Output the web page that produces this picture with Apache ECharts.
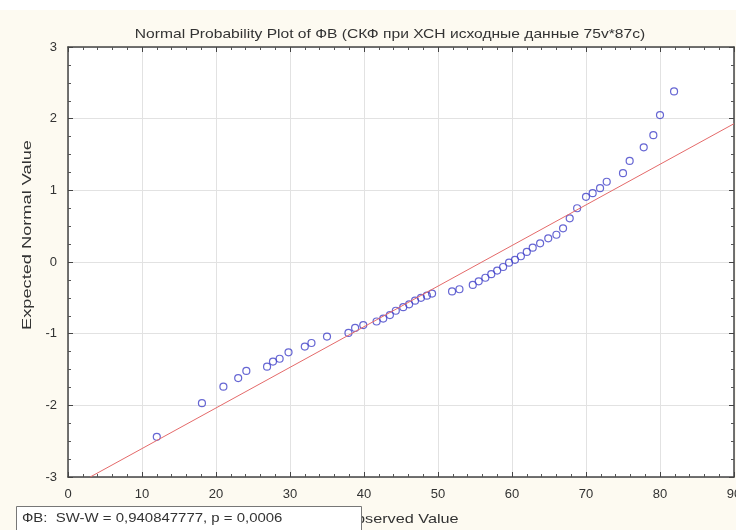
<!DOCTYPE html>
<html>
<head>
<meta charset="utf-8">
<script src="https://cdn.jsdelivr.net/npm/echarts@6/dist/echarts.min.js"></script>
<style>
  html, body { margin: 0; padding: 0; background: #fff; }
  #chart { width: 736px; height: 530px; }
</style>
</head>
<body>
<div id="chart"></div>
<script>
const observedValues = [12.0, 18.1, 21.0, 23.0, 24.1, 26.9, 27.7, 28.6, 29.8, 32.0,
  32.9, 35.0, 37.9, 38.8, 39.9, 41.7, 42.6, 43.5, 44.3, 45.3,
  46.1, 46.9, 47.7, 48.5, 49.2, 51.9, 52.9, 54.7, 55.5, 56.4,
  57.2, 58.0, 58.8, 59.6, 60.4, 61.2, 62.0, 62.8, 63.8, 64.9,
  66.0, 66.9, 67.8, 68.8, 70.0, 70.9, 71.9, 72.8, 75.0, 75.9,
  77.8, 79.1, 80.0, 81.9];
const expectedValues = [-2.44, -1.97, -1.74, -1.62, -1.52, -1.46, -1.39, -1.35, -1.26, -1.18,
  -1.13, -1.04, -0.99, -0.92, -0.88, -0.83, -0.79, -0.74, -0.68, -0.63,
  -0.59, -0.54, -0.50, -0.47, -0.44, -0.41, -0.38, -0.32, -0.27, -0.22,
  -0.17, -0.12, -0.07, -0.01, 0.03, 0.08, 0.14, 0.20, 0.26, 0.33,
  0.38, 0.47, 0.61, 0.75, 0.91, 0.96, 1.03, 1.12, 1.24, 1.41,
  1.60, 1.77, 2.05, 2.38];

// reference line end points
const fitLineX = [3.0, 90];
const fitLineY = [-3, 1.93];

const xRange = [0, 90, 10];
const yRange = [-3, 3, 1];

const titleText = 'Normal Probability Plot of ФВ (СКФ при ХСН исходные данные 75v*87c)';
const xName = 'Observed Value';
const yName = 'Expected Normal Value';
const statsText = 'ФВ:  SW-W = 0,940847777, p = 0,0006';

const FONT = 'Liberation Sans, Arial, sans-serif';
const TEXT = '#333';

const chart = echarts.init(document.getElementById('chart'));

// top / right axes only close the frame
const frameAxis = {
  axisLine: { show: true, onZero: false, lineStyle: { color: '#444', width: 1.5 } },
  axisTick: { show: true, inside: true, length: 5, lineStyle: { color: '#444' } },
  splitLine: { show: false },
  axisLabel: { show: false }
};

const option = {
  backgroundColor: '#fdfaf1',
  animation: false,
  grid: {
    left: 68, right: 2, top: 47, bottom: 53,
    outerBoundsMode: 'none',
    show: true, backgroundColor: '#fff', borderWidth: 0
  },
  xAxis: [
    {
      type: 'value', min: xRange[0], max: xRange[1], interval: xRange[2],
      position: 'bottom',
      axisLine: { show: true, onZero: false, lineStyle: { color: '#444', width: 1.5 } },
      axisTick: { show: true, inside: true, length: 5, lineStyle: { color: '#444' } },
      minorTick: { show: true, splitNumber: 5, length: 3, lineStyle: { color: '#555' } },
      axisLabel: { fontFamily: FONT, fontSize: 13, color: TEXT, margin: 11 },
      splitLine: { show: true, lineStyle: { color: '#e2e2e2' } }
    },
    Object.assign({}, frameAxis, {
      type: 'value', min: xRange[0], max: xRange[1], interval: xRange[2],
      position: 'top',
      minorTick: { show: true, splitNumber: 5, length: 3, lineStyle: { color: '#555' } }
    })
  ],
  yAxis: [
    {
      type: 'value', min: yRange[0], max: yRange[1], interval: yRange[2],
      position: 'left',
      axisLine: { show: true, onZero: false, lineStyle: { color: '#444', width: 1.5 } },
      axisTick: { show: true, inside: true, length: 5, lineStyle: { color: '#444' } },
      minorTick: { show: true, splitNumber: 4, length: 3, lineStyle: { color: '#555' } },
      axisLabel: { fontFamily: FONT, fontSize: 13, color: TEXT, margin: 11 },
      splitLine: { show: true, lineStyle: { color: '#e2e2e2' } }
    },
    Object.assign({}, frameAxis, {
      type: 'value', min: yRange[0], max: yRange[1], interval: yRange[2],
      position: 'right',
      minorTick: { show: true, splitNumber: 4, length: 3, lineStyle: { color: '#555' } }
    })
  ],
  series: [
    {
      type: 'line',
      data: fitLineX.map((x, i) => [x, fitLineY[i]]),
      symbol: 'none',
      lineStyle: { color: '#e46a6a', width: 1 },
      silent: true
    },
    {
      type: 'scatter',
      data: observedValues.map((x, i) => [x, expectedValues[i]]),
      symbol: 'circle',
      symbolSize: 7,
      itemStyle: { color: 'rgba(0,0,0,0)', borderColor: '#4040c8', borderWidth: 1.2 }
    }
  ],
  graphic: [
    // white strip at the very top, outside the chart window
    { type: 'rect', x: 0, y: 0, shape: { width: 736, height: 10 }, style: { fill: '#fff' } },
    {
      type: 'text', x: 390, y: 34, scaleX: 1.2,
      style: {
        text: titleText, fontFamily: FONT, fontSize: 13, fill: TEXT,
        align: 'center', verticalAlign: 'middle'
      }
    },
    {
      type: 'text', x: 27, y: 235, rotation: Math.PI / 2, scaleX: 1.4,
      style: {
        text: yName, fontFamily: FONT, fontSize: 13, fill: TEXT,
        align: 'center', verticalAlign: 'middle'
      }
    },
    {
      type: 'text', x: 401, y: 519, scaleX: 1.25,
      style: {
        text: xName, fontFamily: FONT, fontSize: 13, fill: TEXT,
        align: 'center', verticalAlign: 'middle'
      }
    },
    {
      type: 'rect', shape: { x: 16.5, y: 506.5, width: 345, height: 30 },
      style: { fill: '#fff', stroke: '#777', lineWidth: 1 }, z: 100
    },
    {
      type: 'text', x: 22, y: 518, scaleX: 1.15, z: 101,
      style: { text: statsText, fontFamily: FONT, fontSize: 13, fill: TEXT, verticalAlign: 'middle' }
    }
  ]
};

chart.setOption(option);
</script>
</body>
</html>
